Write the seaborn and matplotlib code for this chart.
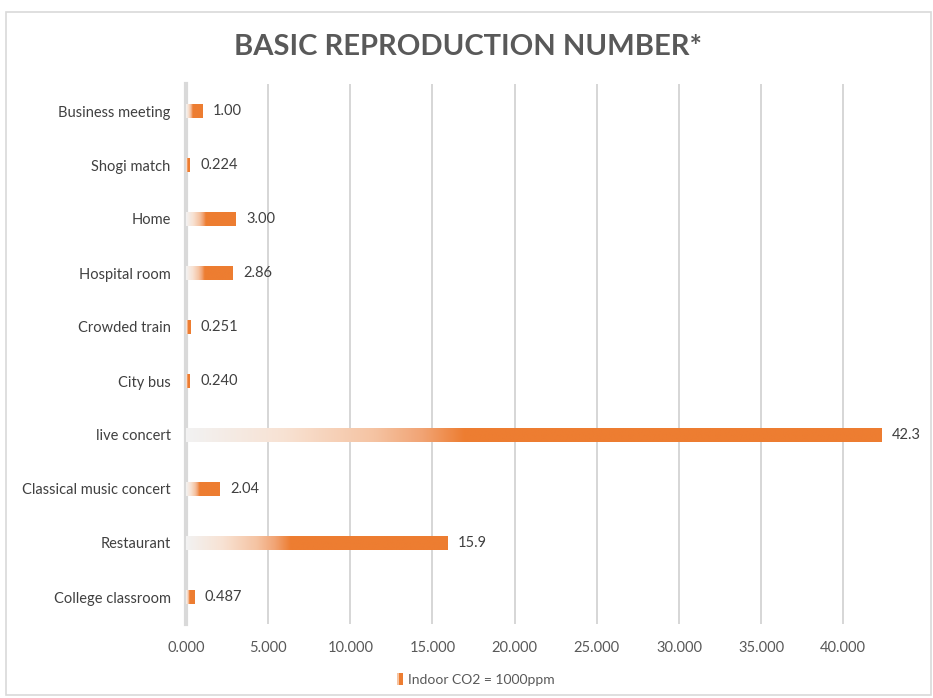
import numpy as np
import pandas as pd
import matplotlib
matplotlib.use("Agg")
import matplotlib.pyplot as plt
import seaborn as sns
from matplotlib.colors import LinearSegmentedColormap
from matplotlib.patches import Rectangle
from matplotlib.legend_handler import HandlerBase

# Data
categories = [
    "Business meeting", "Shogi match", "Home", "Hospital room", "Crowded train",
    "City bus", "live concert", "Classical music concert", "Restaurant", "College classroom",
]
r0_values = [1.00, 0.224, 3.00, 2.86, 0.251, 0.240, 42.3, 2.04, 15.9, 0.487]
x_ticks = [0, 5, 10, 15, 20, 25, 30, 35, 40]
series_name = "Indoor CO2 = 1000ppm"
title_text = "BASIC REPRODUCTION NUMBER*"

ORANGE = "#ED7D31"
TEXT = "#595959"
GRID = "#d0d0d0"

sns.set_theme(style="white")
plt.rcParams["font.family"] = ["Lato", "DejaVu Sans"]

df = pd.DataFrame({"setting": categories, "r0": r0_values})

fig = plt.figure(figsize=(9.33, 6.98), dpi=100)
ax = fig.add_axes([186 / 933, 1 - 624 / 698, (909 - 186) / 933, (624 - 84) / 698])

sns.barplot(data=df, x="r0", y="setting", orient="h", order=categories,
            color=ORANGE, width=0.26, ax=ax, saturation=1)

ax.set_xlim(0, 44)
ax.set_ylim(len(categories) - 0.5, -0.5)

# gradient fill: pale on the left, full orange from ~40% of the bar length
grad_cmap = LinearSegmentedColormap.from_list(
    "fade", [(0.0, "#f2f2f2"), (0.14, "#f8e2d3"), (0.27, "#f5c3a2"),
             (0.34, "#f1a373"), (0.40, ORANGE), (1.0, ORANGE)])
grad = np.linspace(0, 1, 256).reshape(1, -1)
for patch in ax.patches:
    x0, y0 = patch.get_x(), patch.get_y()
    w, h = patch.get_width(), patch.get_height()
    patch.set_facecolor("none")
    patch.set_edgecolor("none")
    im = ax.imshow(grad, cmap=grad_cmap, aspect="auto", interpolation="bilinear",
                   extent=(x0, x0 + w, y0 + h, y0), zorder=3)
    im.set_clip_path(patch)

ax.set_xlim(0, 44)
ax.set_ylim(len(categories) - 0.5, -0.5)

# value labels
for i, v in enumerate(r0_values):
    ax.text(v + 0.65, i, f"{v:#.3g}", va="center", ha="left",
            fontsize=10.5, color="#404040", zorder=4)

ax.set_xticks(x_ticks)
ax.set_xticklabels([f"{t:.3f}" for t in x_ticks], fontsize=10.5, color=TEXT)
ax.tick_params(axis="y", labelsize=10.5, labelcolor="#404040", length=0, pad=11)
ax.tick_params(axis="x", length=0, pad=12)
ax.set_xlabel("")
ax.set_ylabel("")

for x in x_ticks[1:]:
    ax.axvline(x, color=GRID, lw=1.2, zorder=0)
for s in ["top", "right", "bottom"]:
    ax.spines[s].set_visible(False)
ax.spines["left"].set_color("#d9d9d9")
ax.spines["left"].set_linewidth(3)
ax.spines["left"].set_zorder(1)

fig.suptitle(title_text, x=0.502, y=0.951, fontsize=21, fontweight="bold",
             color=TEXT)


class GradientHandle(HandlerBase):
    def create_artists(self, legend, orig_handle, xdescent, ydescent,
                       width, height, fontsize, trans):
        left = Rectangle((-xdescent, -ydescent), width * 0.35, height,
                         facecolor="#f6c4a2", edgecolor="none", transform=trans)
        right = Rectangle((-xdescent + width * 0.35, -ydescent), width * 0.65,
                          height, facecolor=ORANGE, edgecolor="none", transform=trans)
        return [left, right]


proxy = Rectangle((0, 0), 1, 1, facecolor=ORANGE)
fig.legend([proxy], [series_name], handler_map={Rectangle: GradientHandle()},
           loc="center", bbox_to_anchor=(0.51, 0.027), frameon=False,
           fontsize=10, labelcolor=TEXT, handlelength=0.45, handleheight=1.0,
           handletextpad=0.35)

# light frame round the whole chart
fig.patches.append(Rectangle((6 / 933, 3 / 698), 925 / 933, 683 / 698,
                             transform=fig.transFigure, fill=False,
                             edgecolor="#d9d9d9", lw=1.2))

fig.savefig("out.png", dpi=100)
